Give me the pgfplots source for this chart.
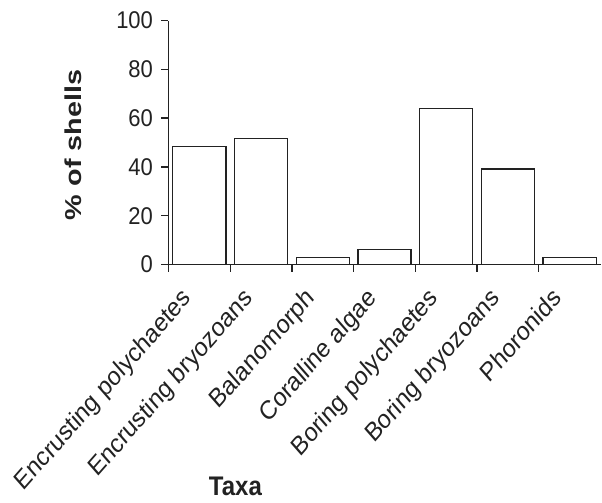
\documentclass[border=0pt]{standalone}
\usepackage{fontspec}
\setmainfont{Liberation Sans}
\usepackage{pgfplots}
\pgfplotsset{compat=1.18}
\definecolor{ink}{HTML}{222222}
\begin{document}
\begin{tikzpicture}
\begin{axis}[
  scale only axis, width=432pt, height=244pt,
  xmin=0.5, xmax=7.5, ymin=0, ymax=100,
  axis x line=bottom, axis y line=left,
  axis line style={-, line width=1.3pt, color=ink},
  every tick/.style={line width=1.3pt, color=ink},
  tick align=outside, major tick length=7pt,
  ytick={0,20,...,100},
  xtick={0.5,1.5,...,6.5},
  xticklabels={},
  extra x ticks={1,2,3,4,5,6,7},
  extra x tick labels={Encrusting polychaetes,Encrusting bryozoans,Balanomorph,Coralline algae,Boring polychaetes,Boring bryozoans,Phoronids},
  extra x tick style={major tick length=0pt, tick label style={xshift=-19pt, yshift=-16pt, yscale=1.14, rotate=45, anchor=north east, font=\fontsize{23}{27}\selectfont}},
  yticklabel style={font=\fontsize{22}{26}\selectfont, color=ink, yscale=1.1, xshift=-5pt},
  xticklabel style={color=ink},
  /pgf/number format/assume math mode=true,
  ylabel={\% of shells},
  ylabel style={at={(axis description cs:-0.22,0.49)}, anchor=center, font=\bfseries\fontsize{23}{27}\selectfont, xscale=1.25, color=ink},
  xlabel={Taxa},
  xlabel style={at={(axis description cs:0.155,-0.909)}, anchor=center, font=\bfseries\fontsize{24}{28}\selectfont, yscale=1.12, color=ink},
  clip=false,
]
\addplot[ybar, bar width=0.86, fill=white, draw=ink, line width=1.3pt] coordinates {
  (1,48.3) (2,51.6) (3,3.0) (4,6.1) (5,63.8) (6,39.2) (7,3.0)
};
\end{axis}
\path[use as bounding box] ([xshift=-168.5pt,yshift=-238.5pt]current axis.south west) rectangle ([xshift=1.5pt,yshift=20.5pt]current axis.north east);
\end{tikzpicture}
\end{document}
